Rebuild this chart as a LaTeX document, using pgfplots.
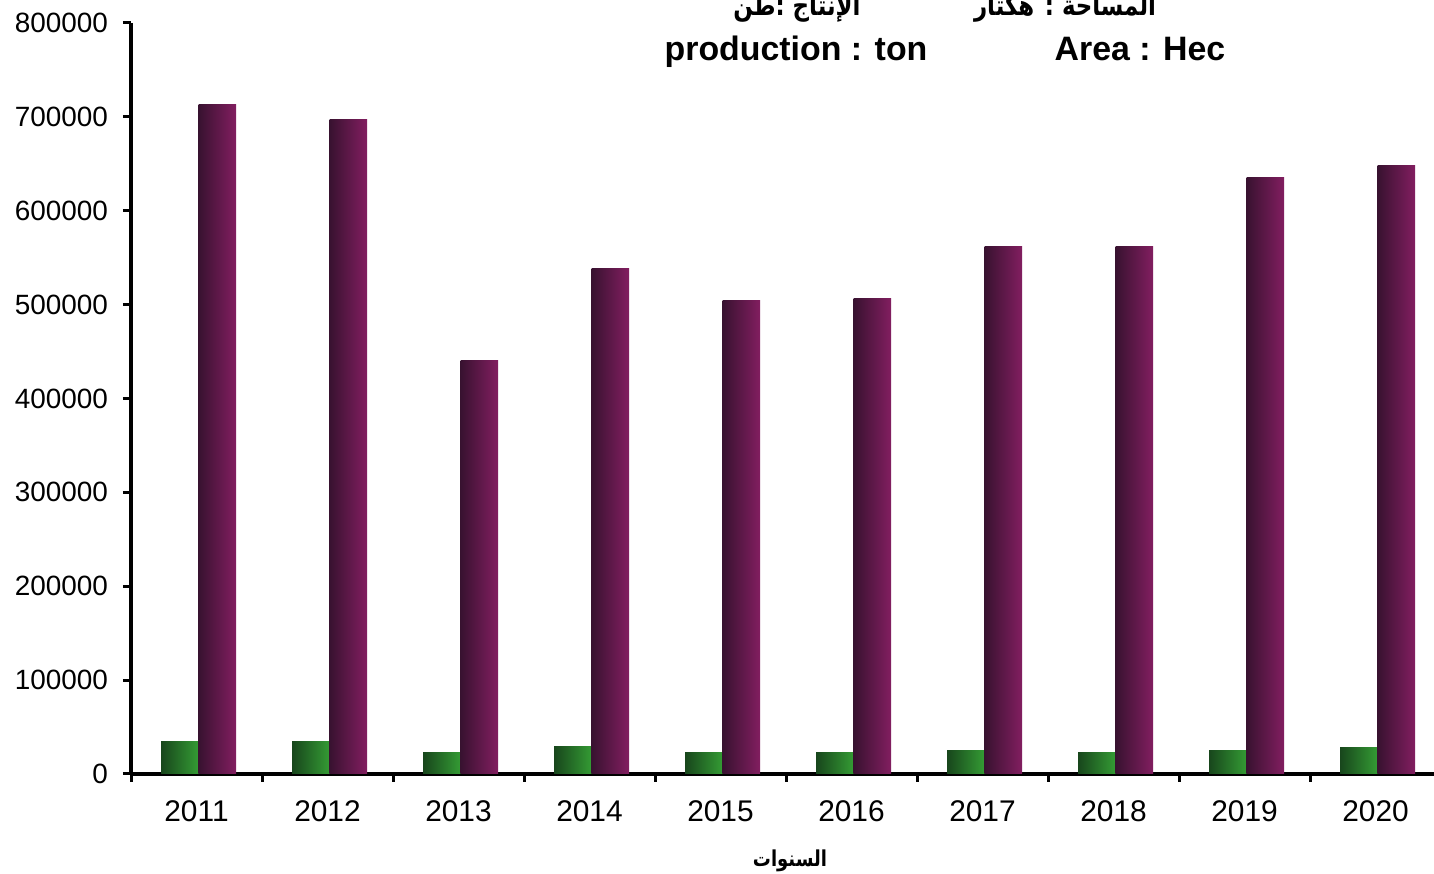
\documentclass[border=0pt]{standalone}
\usepackage{fontspec}
\setmainfont{Liberation Sans}
\newfontfamily\arabicfont[Script=Arabic,FakeStretch=0.82]{DejaVu Sans}
\TeXXeTstate=1
\usepackage{pgfplots}
\pgfplotsset{compat=1.18}
\definecolor{gdark}{RGB}{24,70,28}
\definecolor{glight}{RGB}{52,155,52}
\definecolor{pdark}{RGB}{56,18,48}
\definecolor{plight}{RGB}{130,30,96}
\pgfplotsset{
  gbar/.style={ybar, bar width=18.75bp, bar shift=-8.375bp, draw=none, left color=gdark, right color=glight},
  pbar/.style={ybar, bar width=18.75bp, bar shift=10.375bp, draw=none, left color=pdark, right color=plight},
}
\begin{document}
\begin{tikzpicture}[x=1bp,y=1bp]
\begin{axis}[
  at={(65.5bp,50bp)}, anchor=south west,
  scale only axis, width=655bp, height=375.5bp,
  xmin=-0.5, xmax=9.5, ymin=0, ymax=800000,
  axis x line*=bottom, axis y line*=left,
  axis line style={line width=2bp, -},
  tick style={line width=1.5bp, black},
  tick align=outside, major tick length=4bp,
  xtick={-0.5,0.5,...,9.5},
  x tick label as interval,
  xticklabels={2011,2012,2013,2014,2015,2016,2017,2018,2019,2020},
  ytick={0,100000,...,800000},
  scaled y ticks=false,
  /pgf/number format/.cd, fixed, 1000 sep={}, assume math mode=true,
  /pgfplots/.cd,
  xticklabel style={font=\fontsize{15}{17}\selectfont, yshift=-6bp},
  yticklabel style={font=\fontsize{14}{16}\selectfont, xshift=-4bp},
  clip=false,
]
% area (hectare)
\addplot[gbar] coordinates {(0,35150)};
\addplot[gbar] coordinates {(1,34100)};
\addplot[gbar] coordinates {(2,22400)};
\addplot[gbar] coordinates {(3,29800)};
\addplot[gbar] coordinates {(4,22400)};
\addplot[gbar] coordinates {(5,22400)};
\addplot[gbar] coordinates {(6,24500)};
\addplot[gbar] coordinates {(7,22400)};
\addplot[gbar] coordinates {(8,24500)};
\addplot[gbar] coordinates {(9,27700)};
% production (ton)
\addplot[pbar] coordinates {(0,712700)};
\addplot[pbar] coordinates {(1,697700)};
\addplot[pbar] coordinates {(2,441000)};
\addplot[pbar] coordinates {(3,539000)};
\addplot[pbar] coordinates {(4,504900)};
\addplot[pbar] coordinates {(5,507000)};
\addplot[pbar] coordinates {(6,562400)};
\addplot[pbar] coordinates {(7,562400)};
\addplot[pbar] coordinates {(8,634900)};
\addplot[pbar] coordinates {(9,647700)};
\end{axis}
\node[anchor=base, font=\fontsize{17}{20}\selectfont\bfseries] at (398bp,406.5bp) {production : ton};
\node[anchor=base, font=\fontsize{17}{20}\selectfont\bfseries] at (570bp,406.5bp) {Area : Hec};
\node[anchor=base, font=\fontsize{14}{17}\selectfont\arabicfont\bfseries] at (398.5bp,429bp) {\beginR الإنتاج :طن\endR};
\node[anchor=base, font=\fontsize{14}{17}\selectfont\arabicfont\bfseries] at (532.5bp,429bp) {\beginR المساحة : هكتار\endR};
\node[anchor=base, font=\fontsize{11}{13}\selectfont\arabicfont\bfseries] at (395bp,4bp) {\beginR السنوات\endR};
\pgfresetboundingbox
\path (0,0) rectangle (717bp,437bp);
\end{tikzpicture}
\end{document}
